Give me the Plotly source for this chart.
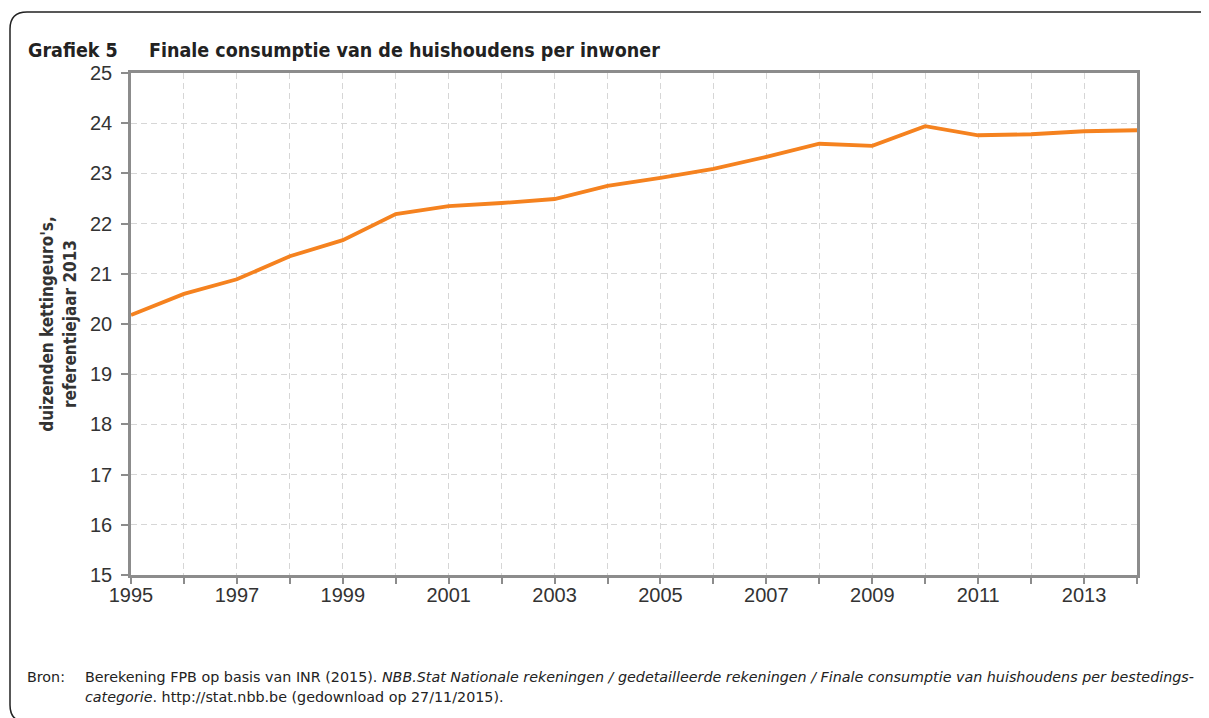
import plotly.graph_objects as go

years = list(range(1995, 2015))
consumption = [20.18, 20.60, 20.89, 21.35, 21.67, 22.19, 22.35, 22.41, 22.49, 22.75,
               22.91, 23.09, 23.33, 23.59, 23.55, 23.94, 23.76, 23.78, 23.84, 23.86]
x_tick_vals = years
x_tick_text = [str(y) if (y - 1995) % 2 == 0 else "" for y in years]
y_tick_vals = list(range(15, 26))

OFF = 8  # default body margin of the html page
W, H = 1209 - OFF, 718 - OFF
L, R, T, B = 131 - OFF, 1137 - OFF, 73 - OFF, 575 - OFF


def px(sx):
    return (sx - OFF - L) / (R - L)


def py(sy):
    return (B - (sy - OFF)) / (B - T)


fig = go.Figure()
fig.add_trace(go.Scatter(
    x=years, y=consumption, mode="lines",
    line=dict(color="#F5821F", width=3.8),
    hoverinfo="x+y", showlegend=False,
))

tick_font = "Liberation Sans Narrow, Arial Narrow, sans-serif"
title_font = "DejaVu Sans Condensed, DejaVu Sans, sans-serif"
ytitle_font = "DejaVu Sans Condensed, DejaVu Sans, sans-serif"
note_font = "DejaVu Sans, sans-serif"

fig.update_layout(
    width=W, height=H,
    margin=dict(l=L, r=W - R, t=T, b=H - B, pad=0),
    paper_bgcolor="white", plot_bgcolor="white",
    font=dict(family=tick_font, color="#333333"),
    xaxis=dict(
        range=[1995, 2014], tickvals=x_tick_vals, ticktext=x_tick_text,
        showline=True, linecolor="#8c8c8c", linewidth=2.5, mirror=True,
        ticks="outside", ticklen=6, tickwidth=2, tickcolor="#8c8c8c",
        showgrid=True, gridcolor="#d6d6d6", griddash="6px,4px", gridwidth=1,
        tickfont=dict(size=20, color="#333333", family=tick_font), zeroline=False,
        ticklabelstandoff=-6,
    ),
    yaxis=dict(
        range=[15, 25], tickvals=y_tick_vals,
        showline=True, linecolor="#8c8c8c", linewidth=2.5, mirror=True,
        ticks="outside", ticklen=7, tickwidth=1.5, tickcolor="#8c8c8c",
        showgrid=True, gridcolor="#d6d6d6", griddash="6px,4px", gridwidth=1,
        tickfont=dict(size=20, color="#333333", family=tick_font), zeroline=False,
        ticklabelstandoff=5,
        title=dict(text="<b>duizenden kettingeuro's,<br>referentiejaar 2013</b>",
                   font=dict(size=17, color="#333333", family=ytitle_font), standoff=10),
    ),
)

# rounded frame (left, top edges visible)
x0, x1 = px(10), px(1240)
y0, y1 = py(12), py(722)
rx = 17 / (R - L)
ry = 17 / (B - T)
path = (f"M {x0 + rx},{y1} Q {x0},{y1} {x0},{y1 + ry} "
        f"L {x0},{y0 - ry} Q {x0},{y0} {x0 + rx},{y0} L {x1},{y0}")
fig.add_shape(type="path", path=path, xref="paper", yref="paper",
              line=dict(color="#222222", width=1.5))

fig.add_annotation(text="<b>Grafiek 5</b>", x=px(26), y=py(50), xref="paper", yref="paper",
                   xanchor="left", yanchor="middle", showarrow=False,
                   font=dict(size=19.5, color="#222222", family=title_font))
fig.add_annotation(text="<b>Finale consumptie van de huishoudens per inwoner</b>",
                   x=px(147), y=py(50), xref="paper", yref="paper",
                   xanchor="left", yanchor="middle", showarrow=False,
                   font=dict(size=19.5, color="#222222", family=title_font))

fig.add_annotation(text="Bron:", x=px(25), y=py(677), xref="paper", yref="paper",
                   xanchor="left", yanchor="middle", showarrow=False,
                   font=dict(size=14.3, color="#222222", family=note_font))
fig.add_annotation(
    text="Berekening FPB op basis van INR (2015). <i>NBB.Stat Nationale rekeningen / gedetailleerde rekeningen / Finale consumptie van huishoudens per bestedings-</i>",
    x=px(83), y=py(677), xref="paper", yref="paper",
    xanchor="left", yanchor="middle", showarrow=False,
    font=dict(size=14.3, color="#222222", family=note_font))
fig.add_annotation(
    text="<i>categorie</i>. http://stat.nbb.be (gedownload op 27/11/2015).",
    x=px(83), y=py(697), xref="paper", yref="paper",
    xanchor="left", yanchor="middle", showarrow=False,
    font=dict(size=14.3, color="#222222", family=note_font))

fig.write_html("out.html")
